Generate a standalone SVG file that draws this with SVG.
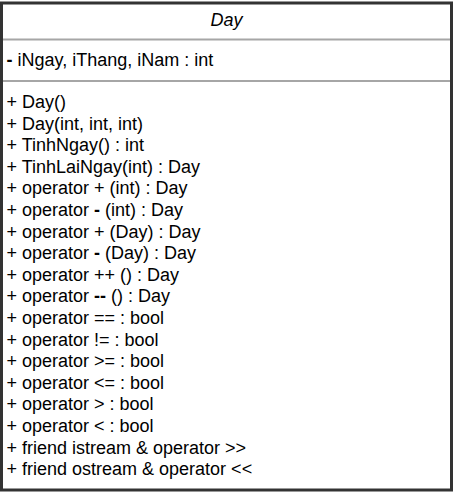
<svg xmlns="http://www.w3.org/2000/svg" width="453" height="492" viewBox="0 0 453 492">
  <style>
    .frame { fill: #ffffff; stroke: #333333; stroke-width: 3; }
    .sep { stroke: #a6a6a6; stroke-width: 2; }
    text { font-family: "Liberation Sans", Arial, sans-serif; font-size: 18px; fill: #000000; }
    .title { font-style: italic; text-anchor: middle; }
    .b { font-weight: bold; }
  </style>
  <rect width="453" height="492" fill="#ffffff"/>
  <g id="class-Day">
    <rect class="frame" x="1.5" y="3" width="450" height="487"/>
    <line class="sep" x1="3" y1="39.5" x2="450" y2="39.5"/>
    <line class="sep" x1="3" y1="81" x2="450" y2="81"/>
    <text class="title" x="226.5" y="26">Day</text>
    <text x="6.5" y="66"><tspan class="b">-</tspan> iNgay, iThang, iNam : int</text>
    <text x="6.5" y="108">+ Day()</text>
    <text x="6.5" y="129.6">+ Day(int, int, int)</text>
    <text x="6.5" y="151.2">+ TinhNgay() : int</text>
    <text x="6.5" y="172.8">+ TinhLaiNgay(int) : Day</text>
    <text x="6.5" y="194.4">+ operator + (int) : Day</text>
    <text x="6.5" y="216">+ operator <tspan class="b">-</tspan> (int) : Day</text>
    <text x="6.5" y="237.6">+ operator + (Day) : Day</text>
    <text x="6.5" y="259.2">+ operator <tspan class="b">-</tspan> (Day) : Day</text>
    <text x="6.5" y="280.8">+ operator ++ () : Day</text>
    <text x="6.5" y="302.4">+ operator <tspan class="b">--</tspan> () : Day</text>
    <text x="6.5" y="324">+ operator == : bool</text>
    <text x="6.5" y="345.6">+ operator != : bool</text>
    <text x="6.5" y="367.2">+ operator &gt;= : bool</text>
    <text x="6.5" y="388.8">+ operator &lt;= : bool</text>
    <text x="6.5" y="410.4">+ operator &gt; : bool</text>
    <text x="6.5" y="432">+ operator &lt; : bool</text>
    <text x="6.5" y="453.6">+ friend istream &amp; operator &gt;&gt;</text>
    <text x="6.5" y="475.2">+ friend ostream &amp; operator &lt;&lt;</text>
  </g>
</svg>
